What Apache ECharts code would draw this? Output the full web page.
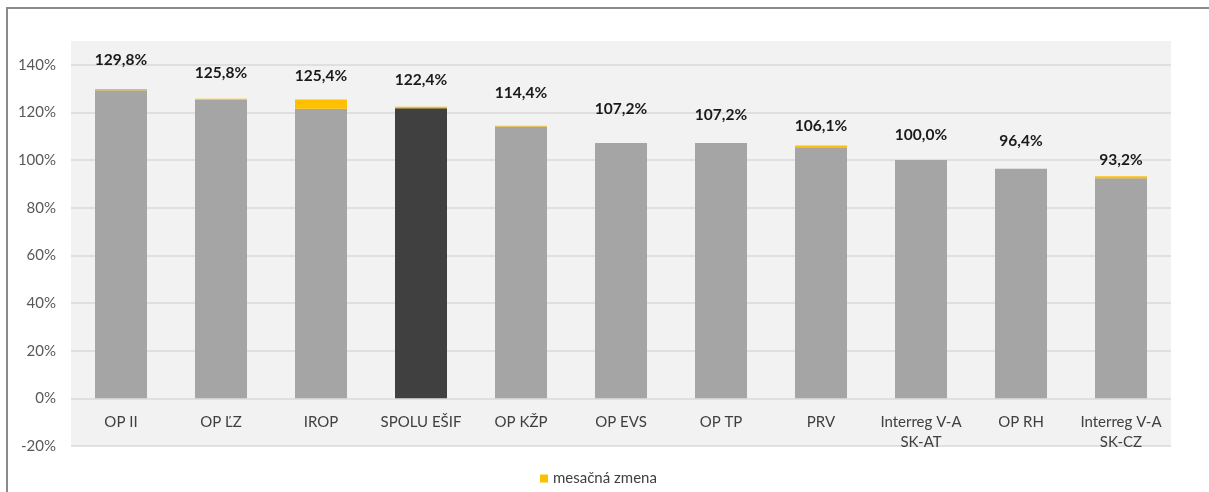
<!DOCTYPE html>
<html>
<head>
<meta charset="utf-8">
<script src="https://cdn.jsdelivr.net/npm/echarts@6/dist/echarts.min.js"></script>
<style>
html,body{margin:0;padding:0;background:#fff;}
#wrap{position:relative;width:1209px;height:492px;overflow:hidden;}
#c{width:1209px;height:492px;}
#frame{position:absolute;left:6px;top:7px;width:2000px;height:2000px;border-left:2px solid #8a8a8a;border-top:2px solid #8a8a8a;pointer-events:none;}
</style>
</head>
<body>
<div id="wrap"><div id="c"></div><div id="frame"></div></div>
<script>
var categories = ['OP II', 'OP ĽZ', 'IROP', 'SPOLU EŠIF', 'OP KŽP', 'OP EVS', 'OP TP', 'PRV', 'Interreg V-A\nSK-AT', 'OP RH', 'Interreg V-A\nSK-CZ'];
var totals = [129.8, 125.8, 125.4, 122.4, 114.4, 107.2, 107.2, 106.1, 100.0, 96.4, 93.2];
var monthlyChange = [0.5, 0.4, 3.8, 0.6, 0.3, 0, 0, 1.0, 0, 0, 0.8];
var highlightCategory = 'SPOLU EŠIF';
var legendName = 'mesačná zmena';

// ---- styles ----
var FONT = 'Lato, "Open Sans", sans-serif';
// label distance above each bar (px), as placed in the original
var LABEL_DISTANCE = [21, 18, 16, 19, 25, 26, 20, 12, 17, 20, 8];

var baseValues = totals.map(function (t, i) { return +(t - monthlyChange[i]).toFixed(1) / 100; });

var chart = echarts.init(document.getElementById('c'));
chart.setOption({
  animation: false,
  textStyle: { fontFamily: FONT },
  legend: {
    data: [legendName],
    left: 535, top: 466,
    icon: 'rect', itemWidth: 8, itemHeight: 8, itemGap: 10,
    textStyle: { fontFamily: FONT, fontSize: 15, color: '#404040' }
  },
  grid: {
    left: 71, right: 38, top: 41, bottom: 46,
    outerBoundsMode: 'none',
    containLabel: false,
    show: true, backgroundColor: '#f2f2f2', borderWidth: 0
  },
  xAxis: {
    type: 'category',
    data: categories,
    axisTick: { show: false },
    axisLine: { show: false, onZero: false },
    axisLabel: { interval: 0, margin: 14, fontFamily: FONT, fontSize: 15, color: '#404040', lineHeight: 20 }
  },
  yAxis: {
    type: 'value',
    min: -0.2, max: 1.5, interval: 0.2,
    axisLine: { show: false },
    axisTick: { show: false },
    axisLabel: {
      showMaxLabel: false, margin: 15, fontFamily: FONT, fontSize: 15, color: '#595959',
      formatter: function (v) { return Math.round(v * 100) + '%'; }
    },
    splitLine: { show: true, showMaxLine: false, lineStyle: { color: '#d9d9d9', width: 1.5 } }
  },
  series: [{
    name: 'základ',
    type: 'bar',
    stack: 's',
    barCategoryGap: '48%',
    data: baseValues.map(function (v, i) {
      return {
        value: v,
        itemStyle: { color: categories[i] === highlightCategory ? '#404040' : '#a5a5a5' }
      };
    })
  }, {
    name: legendName,
    type: 'bar',
    stack: 's',
    itemStyle: { color: '#ffc000' },
    data: monthlyChange.map(function (v, i) {
      return { value: v / 100, label: { distance: LABEL_DISTANCE[i] } };
    }),
    label: {
      show: true,
      position: 'top',
      distance: 16,
      fontFamily: FONT,
      fontSize: 15.5,
      fontWeight: 'bold',
      color: '#1a1a1a',
      formatter: function (p) { return totals[p.dataIndex].toFixed(1).replace('.', ',') + '%'; }
    }
  }]
});
// Move the category axis (labels) up to the 0 line, using the library's own scale
var zeroPx = chart.convertToPixel({ yAxisIndex: 0 }, 0);
var minPx = chart.convertToPixel({ yAxisIndex: 0 }, -0.2);
chart.setOption({ xAxis: { offset: -(minPx - zeroPx) } });
</script>
</body>
</html>
